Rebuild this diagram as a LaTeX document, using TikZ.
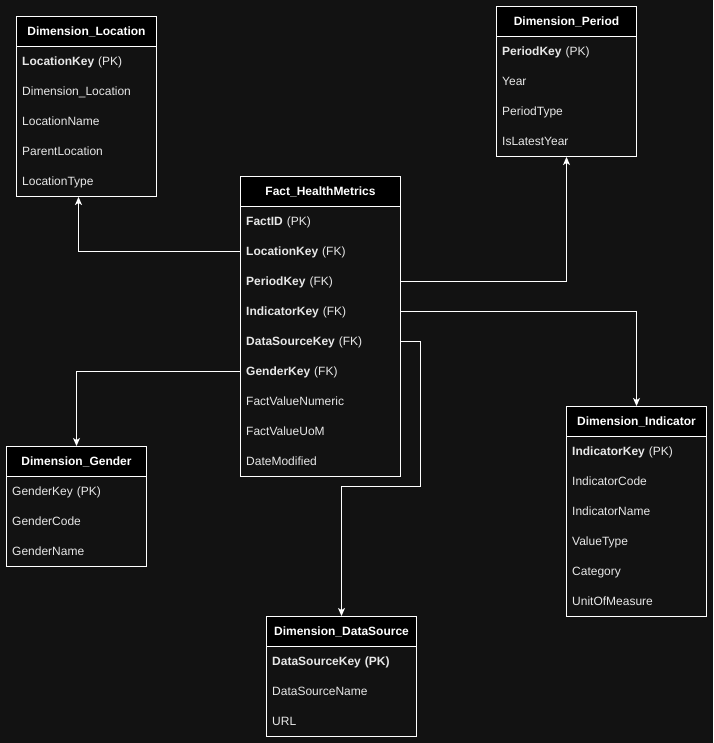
\documentclass[tikz,border=0pt]{standalone}
\usepackage{fontspec}
\setmainfont{Liberation Sans}
\usetikzlibrary{arrows.meta,calc}
\definecolor{bgc}{HTML}{121212}
\definecolor{rowtxt}{HTML}{E8E8E8}
\newcommand\ertable[7]{%
  % #1 name, #2 x, #3 y, #4 width, #5 height, #6 title, #7 rows
  \node[tbox, minimum width=#4pt, minimum height=#5pt, anchor=north west] (#1) at (#2,#3) {};
  \node[hdr, minimum width=#4pt, anchor=north west] (#1-h) at (#2,#3) {#6};
  \foreach \r [count=\i] in {#7} {
    \node[rowst, text width=#4pt-12pt, anchor=north west] (#1-\i) at (#2,#3+30*\i) {\r};
  }
}
\begin{document}
\begin{tikzpicture}[x=1pt,y=-1pt,
  tbox/.style={draw=white, line width=1pt, fill=bgc, inner sep=0pt},
  hdr/.style={draw=white, line width=1pt, fill=black, minimum height=30pt, inner sep=0pt,
    text height=10pt, text depth=1.5pt,
    text=white, font=\fontsize{12}{14}\selectfont\bfseries},
  rowst/.style={minimum height=30pt, inner xsep=6pt, inner ysep=0pt, align=left,
    text height=10pt, text depth=1.5pt,
    text=rowtxt, font=\fontsize{12}{14}\selectfont},
  conn/.style={draw=white, line width=1pt, -{Stealth[length=8pt,width=7pt,inset=2pt]}}
]
\fill[bgc] (0,0) rectangle (713,743);
\useasboundingbox (0,0) rectangle (713,743);

\ertable{loc}{16}{16}{140}{180}{Dimension\_Location}{{\textbf{LocationKey} (PK)},Dimension\_Location,LocationName,ParentLocation,LocationType}
\ertable{per}{496}{6}{140}{150}{Dimension\_Period}{{\textbf{PeriodKey} (PK)},Year,PeriodType,IsLatestYear}
\ertable{fact}{240}{176}{160}{300}{Fact\_HealthMetrics}{{\textbf{FactID} (PK)},{\textbf{LocationKey} (FK)},{\textbf{PeriodKey} (FK)},{\textbf{IndicatorKey} (FK)},{\textbf{DataSourceKey} (FK)},{\textbf{GenderKey} (FK)},FactValueNumeric,FactValueUoM,DateModified}
\ertable{gen}{6}{446}{140}{120}{Dimension\_Gender}{{GenderKey (PK)},GenderCode,GenderName}
\ertable{ind}{566}{406}{140}{210}{Dimension\_Indicator}{{\textbf{IndicatorKey} (PK)},IndicatorCode,IndicatorName,ValueType,Category,UnitOfMeasure}
\ertable{ds}{266}{616}{150}{120}{Dimension\_DataSource}{{\textbf{DataSourceKey (PK)}},DataSourceName,URL}

\draw[conn] (fact-2.west) -| ([xshift=-8pt]loc.south);
\draw[conn] (fact-3.east) -| (per.south);
\draw[conn] (fact-4.east) -| (ind.north);
\coordinate (dsA) at (420,486);
\draw[conn] (fact-5.east) -| (dsA) -| (ds.north);
\draw[conn] (fact-6.west) -| (gen.north);
\end{tikzpicture}
\end{document}
